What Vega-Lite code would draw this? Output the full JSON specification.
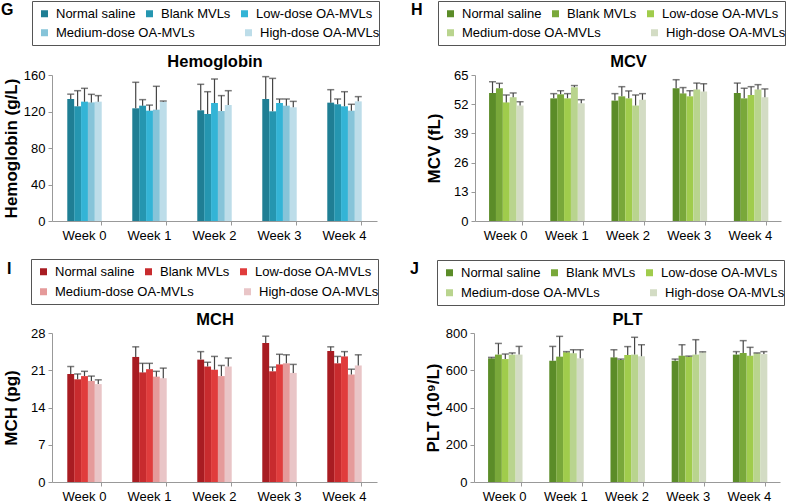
{
  "$schema": "https://vega.github.io/schema/vega-lite/v6.json",
  "padding": {"left": 0, "top": 0, "right": 0, "bottom": 0},
  "background": "white",
  "datasets": {
    "d": [
      {"w":"Week 0","g":"Normal saline","hb":133.7,"hbu":139.0,"mcv":57.0,"mcvu":62.0,"mch":20.3,"mchu":21.7,"plt":664,"pltu":669},
      {"w":"Week 0","g":"Blank MVLs","hb":125.7,"hbu":142.8,"mcv":59.1,"mcvu":61.3,"mch":19.3,"mchu":20.3,"plt":684,"pltu":744},
      {"w":"Week 0","g":"Low-dose OA-MVLs","hb":130.8,"hbu":145.4,"mcv":52.8,"mcvu":56.1,"mch":19.9,"mchu":20.8,"plt":660,"pltu":687},
      {"w":"Week 0","g":"Medium-dose OA-MVLs","hb":130.0,"hbu":138.8,"mcv":55.1,"mcvu":57.0,"mch":19.0,"mchu":19.9,"plt":684,"pltu":693},
      {"w":"Week 0","g":"High-dose OA-MVLs","hb":130.8,"hbu":137.4,"mcv":51.4,"mcvu":53.1,"mch":18.4,"mchu":19.2,"plt":684,"pltu":728},
      {"w":"Week 1","g":"Normal saline","hb":123.5,"hbu":152.0,"mcv":54.6,"mcvu":56.7,"mch":23.5,"mchu":25.4,"plt":651,"pltu":728},
      {"w":"Week 1","g":"Blank MVLs","hb":126.4,"hbu":133.0,"mcv":56.4,"mcvu":58.0,"mch":20.6,"mchu":22.3,"plt":673,"pltu":782},
      {"w":"Week 1","g":"Low-dose OA-MVLs","hb":120.9,"hbu":127.0,"mcv":54.6,"mcvu":56.7,"mch":21.2,"mchu":22.3,"plt":696,"pltu":700},
      {"w":"Week 1","g":"Medium-dose OA-MVLs","hb":122.0,"hbu":147.6,"mcv":59.5,"mcvu":60.3,"mch":19.8,"mchu":20.8,"plt":691,"pltu":710},
      {"w":"Week 1","g":"High-dose OA-MVLs","hb":130.8,"hbu":131.5,"mcv":52.4,"mcvu":54.0,"mch":19.5,"mchu":21.4,"plt":664,"pltu":710},
      {"w":"Week 2","g":"Normal saline","hb":121.3,"hbu":149.8,"mcv":53.6,"mcvu":56.7,"mch":23.0,"mchu":24.5,"plt":669,"pltu":710},
      {"w":"Week 2","g":"Blank MVLs","hb":117.3,"hbu":141.7,"mcv":55.5,"mcvu":59.8,"mch":21.7,"mchu":22.5,"plt":655,"pltu":660},
      {"w":"Week 2","g":"Low-dose OA-MVLs","hb":129.3,"hbu":155.6,"mcv":54.6,"mcvu":57.9,"mch":21.1,"mchu":23.6,"plt":682,"pltu":727},
      {"w":"Week 2","g":"Medium-dose OA-MVLs","hb":120.5,"hbu":137.4,"mcv":51.4,"mcvu":56.1,"mch":19.9,"mchu":21.9,"plt":684,"pltu":777},
      {"w":"Week 2","g":"High-dose OA-MVLs","hb":127.1,"hbu":142.8,"mcv":54.0,"mcvu":56.7,"mch":21.7,"mchu":23.3,"plt":675,"pltu":737},
      {"w":"Week 3","g":"Normal saline","hb":133.7,"hbu":158.2,"mcv":59.1,"mcvu":62.9,"mch":26.1,"mchu":27.4,"plt":651,"pltu":660},
      {"w":"Week 3","g":"Blank MVLs","hb":120.2,"hbu":156.3,"mcv":56.8,"mcvu":59.4,"mch":20.8,"mchu":21.6,"plt":678,"pltu":737},
      {"w":"Week 3","g":"Low-dose OA-MVLs","hb":129.3,"hbu":133.7,"mcv":55.5,"mcvu":58.0,"mch":22.1,"mchu":24.0,"plt":673,"pltu":676},
      {"w":"Week 3","g":"Medium-dose OA-MVLs","hb":126.4,"hbu":133.7,"mcv":58.5,"mcvu":61.4,"mch":22.3,"mchu":23.9,"plt":684,"pltu":764},
      {"w":"Week 3","g":"High-dose OA-MVLs","hb":124.6,"hbu":131.1,"mcv":57.7,"mcvu":61.1,"mch":20.5,"mchu":22.1,"plt":696,"pltu":699},
      {"w":"Week 4","g":"Normal saline","hb":129.7,"hbu":143.9,"mcv":57.0,"mcvu":61.4,"mch":24.6,"mchu":25.4,"plt":684,"pltu":700},
      {"w":"Week 4","g":"Blank MVLs","hb":127.9,"hbu":133.7,"mcv":54.6,"mcvu":59.1,"mch":22.3,"mchu":23.6,"plt":693,"pltu":759},
      {"w":"Week 4","g":"Low-dose OA-MVLs","hb":125.7,"hbu":141.7,"mcv":56.1,"mcvu":59.8,"mch":23.6,"mchu":24.5,"plt":678,"pltu":723},
      {"w":"Week 4","g":"Medium-dose OA-MVLs","hb":120.9,"hbu":127.9,"mcv":58.5,"mcvu":60.7,"mch":20.2,"mchu":21.2,"plt":691,"pltu":693},
      {"w":"Week 4","g":"High-dose OA-MVLs","hb":131.1,"hbu":136.3,"mcv":55.1,"mcvu":58.8,"mch":21.9,"mchu":23.9,"plt":687,"pltu":700}
    ]
  },
  "data": {"name": "d"},
  "spacing": 16,
  "resolve": {"scale": {"color": "independent", "strokeDash": "independent"}, "legend": {"color": "independent", "strokeDash": "independent"}},
  "vconcat": [
    {
      "spacing": 29,
      "resolve": {"scale": {"color": "independent", "strokeDash": "independent"}, "legend": {"color": "independent", "strokeDash": "independent"}},
      "hconcat": [
        {
          "width": 325, "height": 146,
          "layer": [
            {"transform": [{"filter": {"field": "g", "oneOf": ["Normal saline","Blank MVLs","Low-dose OA-MVLs"]}}],
             "mark": {"type": "bar"},
             "encoding": {
               "x": {"field": "w", "type": "nominal", "scale": {"paddingInner": 0.47, "paddingOuter": 0.235}, "axis": {"orient": "bottom", "title": null, "bandPosition": 1, "labelAngle": 0, "labelPadding": 4}},
               "xOffset": {"field": "g", "type": "nominal", "scale": {"domain": ["Normal saline","Blank MVLs","Low-dose OA-MVLs","Medium-dose OA-MVLs","High-dose OA-MVLs"], "paddingInner": 0, "paddingOuter": 0}},
               "y": {"field": "hb", "type": "quantitative", "scale": {"domain": [0, 160], "nice": false}, "axis": {"title": "Hemoglobin (g/L)", "values": [0, 40, 80, 120, 160], "labelOverlap": false}},
               "color": {"field": "g", "type": "nominal",
                 "scale": {"domain": ["Normal saline","Blank MVLs","Low-dose OA-MVLs"], "range": ["#1f7e94","#2596b0","#33b4d6"]},
                 "legend": {"title": " ", "titleOrient": "bottom", "titlePadding": 4, "strokeColor": "#555", "padding": 6, "legendX": -20, "legendY": -74}}
             }},
            {"transform": [{"filter": {"field": "g", "oneOf": ["Medium-dose OA-MVLs","High-dose OA-MVLs"]}}],
             "mark": {"type": "bar"},
             "encoding": {
               "x": {"field": "w", "type": "nominal", "scale": {"paddingInner": 0.47, "paddingOuter": 0.235}, "axis": null},
               "xOffset": {"field": "g", "type": "nominal", "scale": {"domain": ["Normal saline","Blank MVLs","Low-dose OA-MVLs","Medium-dose OA-MVLs","High-dose OA-MVLs"], "paddingInner": 0, "paddingOuter": 0}},
               "y": {"field": "hb", "type": "quantitative", "axis": {"title": "Hemoglobin (g/L)", "values": [0, 40, 80, 120, 160], "labelOverlap": false}},
               "color": {"field": "g", "type": "nominal",
                 "scale": {"domain": ["Medium-dose OA-MVLs","spacer","High-dose OA-MVLs"], "range": ["#86c4d9","rgba(0,0,0,0)","#bddde9"]},
                 "legend": {"title": null, "strokeColor": "transparent", "padding": 0, "legendX": -14, "legendY": -49, "labelExpr": "datum.value === 'spacer' ? 'nn' : datum.label", "encode": {"labels": {"update": {"opacity": {"signal": "datum.value === 'spacer' ? 0 : 1"}}}}}}
             }},
            {"mark": {"type": "rule", "color": "#444", "strokeWidth": 1.2},
             "encoding": {
               "x": {"field": "w", "type": "nominal", "scale": {"paddingInner": 0.47, "paddingOuter": 0.235}, "axis": {"orient": "top", "title": "Hemoglobin", "labels": false, "ticks": false, "domain": false, "titleFontSize": 16.5, "titlePadding": 6}},
               "xOffset": {"field": "g", "type": "nominal"},
               "y": {"field": "hb", "type": "quantitative", "axis": {"title": "Hemoglobin (g/L)", "values": [0, 40, 80, 120, 160], "labelOverlap": false}},
               "y2": {"field": "hbu"},
               "strokeDash": {"datum": "G", "type": "nominal", "scale": {"domain": ["G"], "range": [[1, 0]]},
                 "legend": {"title": "G", "titleOrient": "top", "columns": 1, "padding": 0, "titlePadding": 0, "strokeColor": "transparent", "symbolOpacity": 0, "labelExpr": "''", "titleFontSize": 16, "titleFontWeight": "bold", "titleColor": "#000", "titleFont": "Liberation Sans", "legendX": -51, "legendY": -73}}
             }},
            {"mark": {"type": "tick", "color": "#444", "thickness": 1.5, "size": 7},
             "encoding": {
               "x": {"field": "w", "type": "nominal", "axis": null},
               "xOffset": {"field": "g", "type": "nominal"},
               "y": {"field": "hbu", "type": "quantitative", "axis": {"title": "Hemoglobin (g/L)", "values": [0, 40, 80, 120, 160], "labelOverlap": false}}
             }}
          ],
          "resolve": {"axis": {"x": "independent"}, "scale": {"color": "independent"}}
        },
        {
          "width": 306, "height": 146,
          "layer": [
            {"transform": [{"filter": {"field": "g", "oneOf": ["Normal saline","Blank MVLs","Low-dose OA-MVLs"]}}],
             "mark": {"type": "bar"},
             "encoding": {
               "x": {"field": "w", "type": "nominal", "scale": {"paddingInner": 0.46, "paddingOuter": 0.23}, "axis": {"orient": "bottom", "title": null, "bandPosition": 1, "labelAngle": 0, "labelPadding": 4}},
               "xOffset": {"field": "g", "type": "nominal", "scale": {"domain": ["Normal saline","Blank MVLs","Low-dose OA-MVLs","Medium-dose OA-MVLs","High-dose OA-MVLs"], "paddingInner": 0, "paddingOuter": 0}},
               "y": {"field": "mcv", "type": "quantitative", "scale": {"domain": [0, 65], "nice": false}, "axis": {"title": "MCV (fL)", "values": [0, 13, 26, 39, 52, 65], "labelOverlap": false}},
               "color": {"field": "g", "type": "nominal",
                 "scale": {"domain": ["Normal saline","Blank MVLs","Low-dose OA-MVLs"], "range": ["#5b8c28","#79a83a","#a0cc4c"]},
                 "legend": {"title": " ", "titleOrient": "bottom", "titlePadding": 4, "strokeColor": "#555", "padding": 6, "legendX": -37, "legendY": -74}}
             }},
            {"transform": [{"filter": {"field": "g", "oneOf": ["Medium-dose OA-MVLs","High-dose OA-MVLs"]}}],
             "mark": {"type": "bar"},
             "encoding": {
               "x": {"field": "w", "type": "nominal", "scale": {"paddingInner": 0.46, "paddingOuter": 0.23}, "axis": null},
               "xOffset": {"field": "g", "type": "nominal", "scale": {"domain": ["Normal saline","Blank MVLs","Low-dose OA-MVLs","Medium-dose OA-MVLs","High-dose OA-MVLs"], "paddingInner": 0, "paddingOuter": 0}},
               "y": {"field": "mcv", "type": "quantitative", "axis": {"title": "MCV (fL)", "values": [0, 13, 26, 39, 52, 65], "labelOverlap": false}},
               "color": {"field": "g", "type": "nominal",
                 "scale": {"domain": ["Medium-dose OA-MVLs","spacer","High-dose OA-MVLs"], "range": ["#b9d48e","rgba(0,0,0,0)","#d3dcc4"]},
                 "legend": {"title": null, "strokeColor": "transparent", "padding": 0, "legendX": -31, "legendY": -49, "labelExpr": "datum.value === 'spacer' ? 'nn' : datum.label", "encode": {"labels": {"update": {"opacity": {"signal": "datum.value === 'spacer' ? 0 : 1"}}}}}}
             }},
            {"mark": {"type": "rule", "color": "#444", "strokeWidth": 1.2},
             "encoding": {
               "x": {"field": "w", "type": "nominal", "scale": {"paddingInner": 0.46, "paddingOuter": 0.23}, "axis": {"orient": "top", "title": "MCV", "labels": false, "ticks": false, "domain": false, "titleFontSize": 16.5, "titlePadding": 6}},
               "xOffset": {"field": "g", "type": "nominal"},
               "y": {"field": "mcv", "type": "quantitative", "axis": {"title": "MCV (fL)", "values": [0, 13, 26, 39, 52, 65], "labelOverlap": false}},
               "y2": {"field": "mcvu"},
               "strokeDash": {"datum": "H", "type": "nominal", "scale": {"domain": ["H"], "range": [[1, 0]]},
                 "legend": {"title": "H", "titleOrient": "top", "columns": 1, "padding": 0, "titlePadding": 0, "strokeColor": "transparent", "symbolOpacity": 0, "labelExpr": "''", "titleFontSize": 16, "titleFontWeight": "bold", "titleColor": "#000", "titleFont": "Liberation Sans", "legendX": -64, "legendY": -73}}
             }},
            {"mark": {"type": "tick", "color": "#444", "thickness": 1.5, "size": 7},
             "encoding": {
               "x": {"field": "w", "type": "nominal", "axis": null},
               "xOffset": {"field": "g", "type": "nominal"},
               "y": {"field": "mcvu", "type": "quantitative", "axis": {"title": "MCV (fL)", "values": [0, 13, 26, 39, 52, 65], "labelOverlap": false}}
             }}
          ],
          "resolve": {"axis": {"x": "independent"}, "scale": {"color": "independent"}}
        }
      ]
    },
    {
      "spacing": 29,
      "resolve": {"scale": {"color": "independent", "strokeDash": "independent"}, "legend": {"color": "independent", "strokeDash": "independent"}},
      "hconcat": [
        {
          "width": 325, "height": 149,
          "layer": [
            {"transform": [{"filter": {"field": "g", "oneOf": ["Normal saline","Blank MVLs","Low-dose OA-MVLs"]}}],
             "mark": {"type": "bar"},
             "encoding": {
               "x": {"field": "w", "type": "nominal", "scale": {"paddingInner": 0.47, "paddingOuter": 0.235}, "axis": {"orient": "bottom", "title": null, "bandPosition": 1, "labelAngle": 0, "labelPadding": 4}},
               "xOffset": {"field": "g", "type": "nominal", "scale": {"domain": ["Normal saline","Blank MVLs","Low-dose OA-MVLs","Medium-dose OA-MVLs","High-dose OA-MVLs"], "paddingInner": 0, "paddingOuter": 0}},
               "y": {"field": "mch", "type": "quantitative", "scale": {"domain": [0, 28], "nice": false}, "axis": {"title": "MCH (pg)", "values": [0, 7, 14, 21, 28], "labelOverlap": false}},
               "color": {"field": "g", "type": "nominal",
                 "scale": {"domain": ["Normal saline","Blank MVLs","Low-dose OA-MVLs"], "range": ["#a81c22","#c82b2e","#e03c3c"]},
                 "legend": {"title": " ", "titleOrient": "bottom", "titlePadding": 5, "strokeColor": "#555", "padding": 6, "legendX": -21, "legendY": -74}}
             }},
            {"transform": [{"filter": {"field": "g", "oneOf": ["Medium-dose OA-MVLs","High-dose OA-MVLs"]}}],
             "mark": {"type": "bar"},
             "encoding": {
               "x": {"field": "w", "type": "nominal", "scale": {"paddingInner": 0.47, "paddingOuter": 0.235}, "axis": null},
               "xOffset": {"field": "g", "type": "nominal", "scale": {"domain": ["Normal saline","Blank MVLs","Low-dose OA-MVLs","Medium-dose OA-MVLs","High-dose OA-MVLs"], "paddingInner": 0, "paddingOuter": 0}},
               "y": {"field": "mch", "type": "quantitative", "axis": {"title": "MCH (pg)", "values": [0, 7, 14, 21, 28], "labelOverlap": false}},
               "color": {"field": "g", "type": "nominal",
                 "scale": {"domain": ["Medium-dose OA-MVLs","spacer","High-dose OA-MVLs"], "range": ["#e59a9a","rgba(0,0,0,0)","#e9c5c7"]},
                 "legend": {"title": null, "strokeColor": "transparent", "padding": 0, "legendX": -15, "legendY": -48, "labelExpr": "datum.value === 'spacer' ? 'nn' : datum.label", "encode": {"labels": {"update": {"opacity": {"signal": "datum.value === 'spacer' ? 0 : 1"}}}}}}
             }},
            {"mark": {"type": "rule", "color": "#444", "strokeWidth": 1.2},
             "encoding": {
               "x": {"field": "w", "type": "nominal", "scale": {"paddingInner": 0.47, "paddingOuter": 0.235}, "axis": {"orient": "top", "title": "MCH", "labels": false, "ticks": false, "domain": false, "titleFontSize": 16.5, "titlePadding": 6}},
               "xOffset": {"field": "g", "type": "nominal"},
               "y": {"field": "mch", "type": "quantitative", "axis": {"title": "MCH (pg)", "values": [0, 7, 14, 21, 28], "labelOverlap": false}},
               "y2": {"field": "mchu"},
               "strokeDash": {"datum": "I", "type": "nominal", "scale": {"domain": ["I"], "range": [[1, 0]]},
                 "legend": {"title": "I", "titleOrient": "top", "columns": 1, "padding": 0, "titlePadding": 0, "strokeColor": "transparent", "symbolOpacity": 0, "labelExpr": "''", "titleFontSize": 16, "titleFontWeight": "bold", "titleColor": "#000", "titleFont": "Liberation Sans", "legendX": -45, "legendY": -72}}
             }},
            {"mark": {"type": "tick", "color": "#444", "thickness": 1.5, "size": 7},
             "encoding": {
               "x": {"field": "w", "type": "nominal", "axis": null},
               "xOffset": {"field": "g", "type": "nominal"},
               "y": {"field": "mchu", "type": "quantitative", "axis": {"title": "MCH (pg)", "values": [0, 7, 14, 21, 28], "labelOverlap": false}}
             }}
          ],
          "resolve": {"axis": {"x": "independent"}, "scale": {"color": "independent"}}
        },
        {
          "width": 306, "height": 149,
          "layer": [
            {"transform": [{"filter": {"field": "g", "oneOf": ["Normal saline","Blank MVLs","Low-dose OA-MVLs"]}}],
             "mark": {"type": "bar"},
             "encoding": {
               "x": {"field": "w", "type": "nominal", "scale": {"paddingInner": 0.46, "paddingOuter": 0.23}, "axis": {"orient": "bottom", "title": null, "bandPosition": 1, "labelAngle": 0, "labelPadding": 4}},
               "xOffset": {"field": "g", "type": "nominal", "scale": {"domain": ["Normal saline","Blank MVLs","Low-dose OA-MVLs","Medium-dose OA-MVLs","High-dose OA-MVLs"], "paddingInner": 0, "paddingOuter": 0}},
               "y": {"field": "plt", "type": "quantitative", "scale": {"domain": [0, 800], "nice": false}, "axis": {"title": "PLT (10⁹/L)", "values": [0, 200, 400, 600, 800], "labelOverlap": false}},
               "color": {"field": "g", "type": "nominal",
                 "scale": {"domain": ["Normal saline","Blank MVLs","Low-dose OA-MVLs"], "range": ["#5b8c28","#79a83a","#a0cc4c"]},
                 "legend": {"title": " ", "titleOrient": "bottom", "titlePadding": 5, "strokeColor": "#555", "padding": 6, "legendX": -37, "legendY": -73}}
             }},
            {"transform": [{"filter": {"field": "g", "oneOf": ["Medium-dose OA-MVLs","High-dose OA-MVLs"]}}],
             "mark": {"type": "bar"},
             "encoding": {
               "x": {"field": "w", "type": "nominal", "scale": {"paddingInner": 0.46, "paddingOuter": 0.23}, "axis": null},
               "xOffset": {"field": "g", "type": "nominal", "scale": {"domain": ["Normal saline","Blank MVLs","Low-dose OA-MVLs","Medium-dose OA-MVLs","High-dose OA-MVLs"], "paddingInner": 0, "paddingOuter": 0}},
               "y": {"field": "plt", "type": "quantitative", "axis": {"title": "PLT (10⁹/L)", "values": [0, 200, 400, 600, 800], "labelOverlap": false}},
               "color": {"field": "g", "type": "nominal",
                 "scale": {"domain": ["Medium-dose OA-MVLs","spacer","High-dose OA-MVLs"], "range": ["#b9d48e","rgba(0,0,0,0)","#d3dcc4"]},
                 "legend": {"title": null, "strokeColor": "transparent", "padding": 0, "legendX": -31, "legendY": -47, "labelExpr": "datum.value === 'spacer' ? 'nn' : datum.label", "encode": {"labels": {"update": {"opacity": {"signal": "datum.value === 'spacer' ? 0 : 1"}}}}}}
             }},
            {"mark": {"type": "rule", "color": "#444", "strokeWidth": 1.2},
             "encoding": {
               "x": {"field": "w", "type": "nominal", "scale": {"paddingInner": 0.46, "paddingOuter": 0.23}, "axis": {"orient": "top", "title": "PLT", "labels": false, "ticks": false, "domain": false, "titleFontSize": 16.5, "titlePadding": 6}},
               "xOffset": {"field": "g", "type": "nominal"},
               "y": {"field": "plt", "type": "quantitative", "axis": {"title": "PLT (10⁹/L)", "values": [0, 200, 400, 600, 800], "labelOverlap": false}},
               "y2": {"field": "pltu"},
               "strokeDash": {"datum": "J", "type": "nominal", "scale": {"domain": ["J"], "range": [[1, 0]]},
                 "legend": {"title": "J", "titleOrient": "top", "columns": 1, "padding": 0, "titlePadding": 0, "strokeColor": "transparent", "symbolOpacity": 0, "labelExpr": "''", "titleFontSize": 16, "titleFontWeight": "bold", "titleColor": "#000", "titleFont": "Liberation Sans", "legendX": -64, "legendY": -72}}
             }},
            {"mark": {"type": "tick", "color": "#444", "thickness": 1.5, "size": 7},
             "encoding": {
               "x": {"field": "w", "type": "nominal", "axis": null},
               "xOffset": {"field": "g", "type": "nominal"},
               "y": {"field": "pltu", "type": "quantitative", "axis": {"title": "PLT (10⁹/L)", "values": [0, 200, 400, 600, 800], "labelOverlap": false}}
             }}
          ],
          "resolve": {"axis": {"x": "independent"}, "scale": {"color": "independent"}}
        }
      ]
    }
  ],
  "config": {
    "font": "Liberation Sans",
    "view": {"stroke": null},
    "axis": {"labelFont": "Liberation Sans", "labelFontSize": 13, "labelColor": "#000", "titleFont": "Liberation Sans", "titleFontSize": 17, "titleFontWeight": "bold", "titleColor": "#000", "domainColor": "#999", "tickColor": "#999", "tickSize": 4, "grid": false, "labelPadding": 3, "labelOverlap": false},
    "axisY": {"minExtent": 31, "maxExtent": 31, "titlePadding": 1},
    "legend": {"orient": "none", "columns": 3, "direction": "horizontal", "symbolType": "square", "symbolSize": 49, "symbolStrokeWidth": 0, "labelFont": "Liberation Sans", "labelFontSize": 13, "labelColor": "#000", "labelOffset": 5, "labelLimit": 300, "columnPadding": 7, "rowPadding": 7, "titleFontSize": 13.3}
  }
}
